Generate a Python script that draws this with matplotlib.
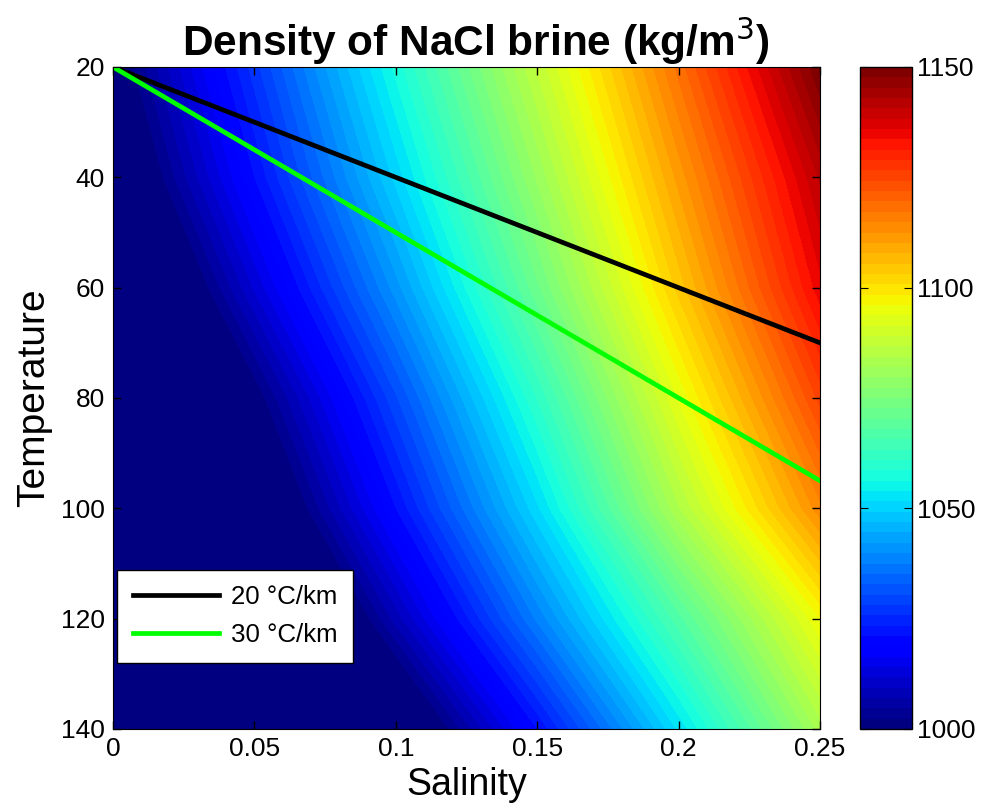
import numpy as np
import matplotlib
matplotlib.use("Agg")
import matplotlib.pyplot as plt
from matplotlib.colors import Normalize
from matplotlib.cm import ScalarMappable

plt.rcParams['font.family'] = ['Liberation Sans', 'DejaVu Sans']

# Salinity (mass fraction) and temperature (deg C) grid
salinity = [0.0, 0.05, 0.10, 0.15, 0.20, 0.25]
temperature = [20, 40, 60, 80, 100, 120, 140]
# Density (kg/m^3), rows = temperature, cols = salinity
density = [
    [998, 1027, 1057, 1087, 1118, 1150],
    [992, 1021, 1050, 1080, 1111, 1141],
    [982, 1012, 1041, 1072, 1104, 1135],
    [970, 1000, 1030, 1061, 1094, 1125],
    [960,  991, 1021, 1051, 1084, 1114],
    [947,  977, 1008, 1038, 1067, 1096],
    [931,  961,  991, 1021, 1052, 1083],
]

# Geothermal gradient paths (salinity, temperature)
grad20_s = [0.0, 0.25]
grad20_t = [20, 70]
grad30_s = [0.0, 0.25]
grad30_t = [20, 95]

x_ticks = [0, 0.05, 0.10, 0.15, 0.20, 0.25]
x_ticklabels = ['0', '0.05', '0.1', '0.15', '0.2', '0.25']
y_ticks = [20, 40, 60, 80, 100, 120, 140]
cb_ticks = [1000, 1050, 1100, 1150]

W, H = 983, 811
fig = plt.figure(figsize=(W / 100, H / 100), dpi=100)

def px_axes(l, t, r, b):
    return fig.add_axes([l / W, 1 - b / H, (r - l) / W, (b - t) / H])

ax = px_axes(113, 67, 820, 729)
cax = px_axes(860, 67, 912, 729)

cmap = plt.get_cmap('jet', 64)
norm = Normalize(1000, 1150)
levels = np.linspace(1000, 1150, 65)
S, T = np.meshgrid(salinity, temperature)
ax.contourf(S, T, np.array(density), levels=levels, cmap=cmap, norm=norm,
            extend='both', antialiased=False)

ax.plot(grad20_s, grad20_t, color='black', lw=3.4, label='20 °C/km')
ax.plot(grad30_s, grad30_t, color='#00ff00', lw=3.4, label='30 °C/km')

ax.set_xlim(0, 0.25)
ax.set_ylim(140, 20)
ax.set_xticks(x_ticks)
ax.set_xticklabels(x_ticklabels)
ax.set_yticks(y_ticks)
ax.tick_params(direction='in', top=True, right=True, labelsize=19,
               length=6, width=1, pad=6)
ax.set_xlabel('Salinity', fontsize=27, labelpad=4)
ax.set_ylabel('Temperature', fontsize=28, labelpad=6)
ax.set_title('Density of NaCl brine (kg/m$^3$)', fontsize=30.5, fontweight='bold',
             pad=8, x=0.513)

leg = ax.legend(loc='lower left', bbox_to_anchor=(0.006, 0.0997), borderaxespad=0,
                fontsize=18.6, fancybox=False, framealpha=1, edgecolor='black',
                handlelength=3.33, handletextpad=0.47, borderpad=0.6, labelspacing=0.55)
leg.get_frame().set_linewidth(1)

sm = ScalarMappable(norm=norm, cmap=cmap)
cb = fig.colorbar(sm, cax=cax, ticks=cb_ticks)
cb.ax.tick_params(direction='in', labelsize=19, length=6, left=True, right=True)
cb.outline.set_linewidth(1)

fig.savefig('out.png', dpi=100)
